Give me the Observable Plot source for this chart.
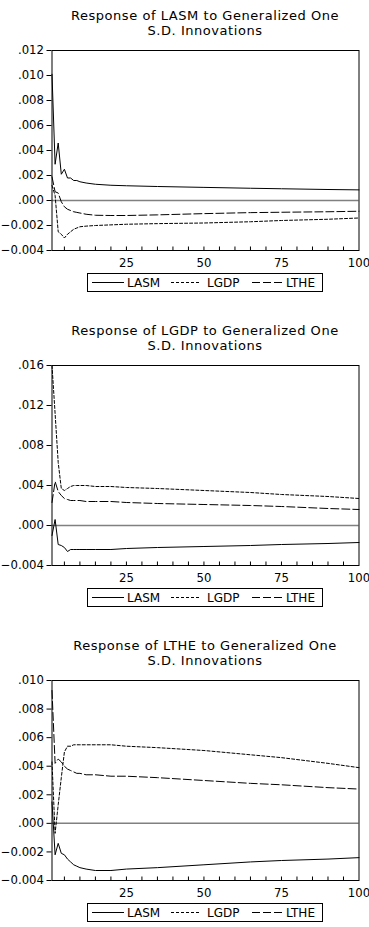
<!DOCTYPE html>
<html><head><meta charset="utf-8">
<script src="https://cdn.jsdelivr.net/npm/d3@7"></script>
<script src="https://cdn.jsdelivr.net/npm/@observablehq/plot@0.6"></script>
<style>
html,body{margin:0;padding:0;background:#fff;}
body{width:369px;height:927px;overflow:hidden;position:relative;font-family:"DejaVu Sans",sans-serif;}
.panel{position:absolute;left:0;width:369px;height:315px;}
.title{position:absolute;left:205px;top:8px;transform:translateX(-50%);white-space:nowrap;text-align:center;font-size:13px;letter-spacing:0.55px;line-height:15.2px;color:#000;}
.chart{position:absolute;left:0;top:0;}
.legend{position:absolute;left:87px;top:273px;width:236px;height:19px;}
</style></head><body>
<script>
// ---- data ----
const periods = [1,2,3,4,5,6,7,8,9,10,12,15,20,25,35,50,65,75,90,100];
const seriesNames = ["LASM","LGDP","LTHE"];
const panelTitles = [
  ["Response of LASM to Generalized One","S.D. Innovations"],
  ["Response of LGDP to Generalized One","S.D. Innovations"],
  ["Response of LTHE to Generalized One","S.D. Innovations"]
];
// Panel 1: response of LASM
const lasm_LASM = [.0101,.0029,.0046,.0021,.0025,.0018,.0018,.0016,.0016,.0015,.0014,.0013,.00122,.00118,.00112,.00105,.00098,.00094,.00088,.00085];
const lasm_LGDP = [.0012,.0004,-.0025,-.0027,-.0030,-.0027,-.0025,-.0023,-.0022,-.0021,-.00205,-.0020,-.00195,-.0019,-.00185,-.0018,-.0017,-.0016,-.0015,-.0014];
const lasm_LTHE = [.0019,.0007,.0006,-.0001,-.0005,-.0007,-.0008,-.0009,-.00095,-.0010,-.0011,-.00118,-.0012,-.0012,-.00115,-.00105,-.00097,-.00094,-.0009,-.00086];
// Panel 2: response of LGDP
const lgdp_LASM = [-.0010,.0006,-.0019,-.0020,-.0022,-.0026,-.0024,-.0024,-.0024,-.0024,-.0024,-.0024,-.0024,-.0023,-.0022,-.0021,-.0020,-.0019,-.0018,-.0017];
const lgdp_LGDP = [.0160,.0112,.0063,.0037,.0035,.0037,.0039,.0040,.0040,.0040,.0040,.0039,.0039,.0038,.0037,.0035,.0033,.0031,.0029,.0027];
const lgdp_LTHE = [.0023,.0044,.0034,.0030,.0027,.0026,.0025,.0025,.0025,.0025,.0024,.0024,.0024,.0023,.0022,.0021,.0020,.0019,.0017,.0016];
// Panel 3: response of LTHE
const lthe_LASM = [.0015,-.0022,-.0014,-.0021,-.0022,-.0025,-.0027,-.0029,-.0030,-.0031,-.0032,-.0033,-.0033,-.0032,-.0031,-.0029,-.0027,-.0026,-.0025,-.0024];
const lthe_LGDP = [.0043,-.0007,.0013,.0032,.0050,.0054,.0054,.0055,.0055,.0055,.0055,.0055,.0055,.0054,.0053,.0051,.0048,.0046,.0042,.0039];
const lthe_LTHE = [.0093,.0042,.0045,.0043,.0040,.0038,.0037,.0036,.0035,.0035,.0034,.0034,.0033,.0033,.0032,.0030,.0028,.0027,.0025,.0024];
// axes
const xDomain = [1, 100];
const xTickLabels = [25, 50, 75, 100];
const xMinorTicks = [5,10,15,20,25,30,35,40,45,50,55,60,65,70,75,80,85,90,95];
const yDomains = [[-0.004, 0.012], [-0.004, 0.016], [-0.004, 0.010]];
const yTicks = [
  [-0.004,-0.002,0,0.002,0.004,0.006,0.008,0.010,0.012],
  [-0.004,0,0.004,0.008,0.012,0.016],
  [-0.004,-0.002,0,0.002,0.004,0.006,0.008,0.010]
];
const zeroLine = [0];
const seriesDash = [null, "3,2", "8,3"];

const panelSeries = [
  [lasm_LASM, lasm_LGDP, lasm_LTHE],
  [lgdp_LASM, lgdp_LGDP, lgdp_LTHE],
  [lthe_LASM, lthe_LGDP, lthe_LTHE]
];

const fmt = (d) => d3.format(".3f")(d).replace(/^(-?)0\./, "$1.");

function legendSVG() {
  return `<svg width="236" height="19" style="display:block;font-family:'DejaVu Sans';">
    <rect x="0.5" y="0.5" width="235" height="18" fill="white" stroke="black"/>
    <line x1="5" x2="37" y1="9.5" y2="9.5" stroke="black"/>
    <text x="40" y="14" font-size="12">${seriesNames[0]}</text>
    <line x1="84" x2="113" y1="9.5" y2="9.5" stroke="black" stroke-dasharray="${seriesDash[1]}"/>
    <text x="120" y="14" font-size="12">${seriesNames[1]}</text>
    <line x1="165" x2="195" y1="9.5" y2="9.5" stroke="black" stroke-dasharray="${seriesDash[2]}"/>
    <text x="199" y="14" font-size="12">${seriesNames[2]}</text>
  </svg>`;
}

panelSeries.forEach((series, k) => {
  const panel = document.createElement("div");
  panel.className = "panel";
  panel.style.top = (315 * k) + "px";
  document.body.appendChild(panel);

  const chart = Plot.plot({
    width: 369,
    height: 300,
    marginTop: 50,
    marginBottom: 50,
    marginLeft: 51.5,
    marginRight: 10.5,
    style: {fontFamily: "DejaVu Sans", fontSize: "11.7px", overflow: "visible", background: "transparent", color: "#000"},
    x: {domain: xDomain},
    y: {domain: yDomains[k]},
    marks: [
      Plot.ruleY(zeroLine, {y: d => d, stroke: "#808080", strokeWidth: 1.5}),
      ...series.map((vals, i) => Plot.line(vals, {x: periods, y: vals, stroke: "#000", strokeWidth: 1, strokeDasharray: seriesDash[i]})),
      Plot.ruleX(xMinorTicks, {x: d => d, y1: yDomains[k][0], y2: yDomains[k][0], insetBottom: 3.5, stroke: "#000"}),
      Plot.frame({stroke: "#000"}),
      Plot.axisY(yTicks[k], {tickFormat: fmt, tickSize: 5, tickPadding: 3, label: null, fontSize: 11.7}),
      Plot.axisX(xTickLabels, {tickSize: 0, tickPadding: 8.5, label: null, fontSize: 11.7})
    ]
  });
  chart.classList.add("chart");
  panel.appendChild(chart);

  const title = document.createElement("div");
  title.className = "title";
  title.innerHTML = panelTitles[k].join("<br>");
  panel.appendChild(title);

  const legend = document.createElement("div");
  legend.className = "legend";
  legend.innerHTML = legendSVG();
  panel.appendChild(legend);
});
</script>
</body></html>
